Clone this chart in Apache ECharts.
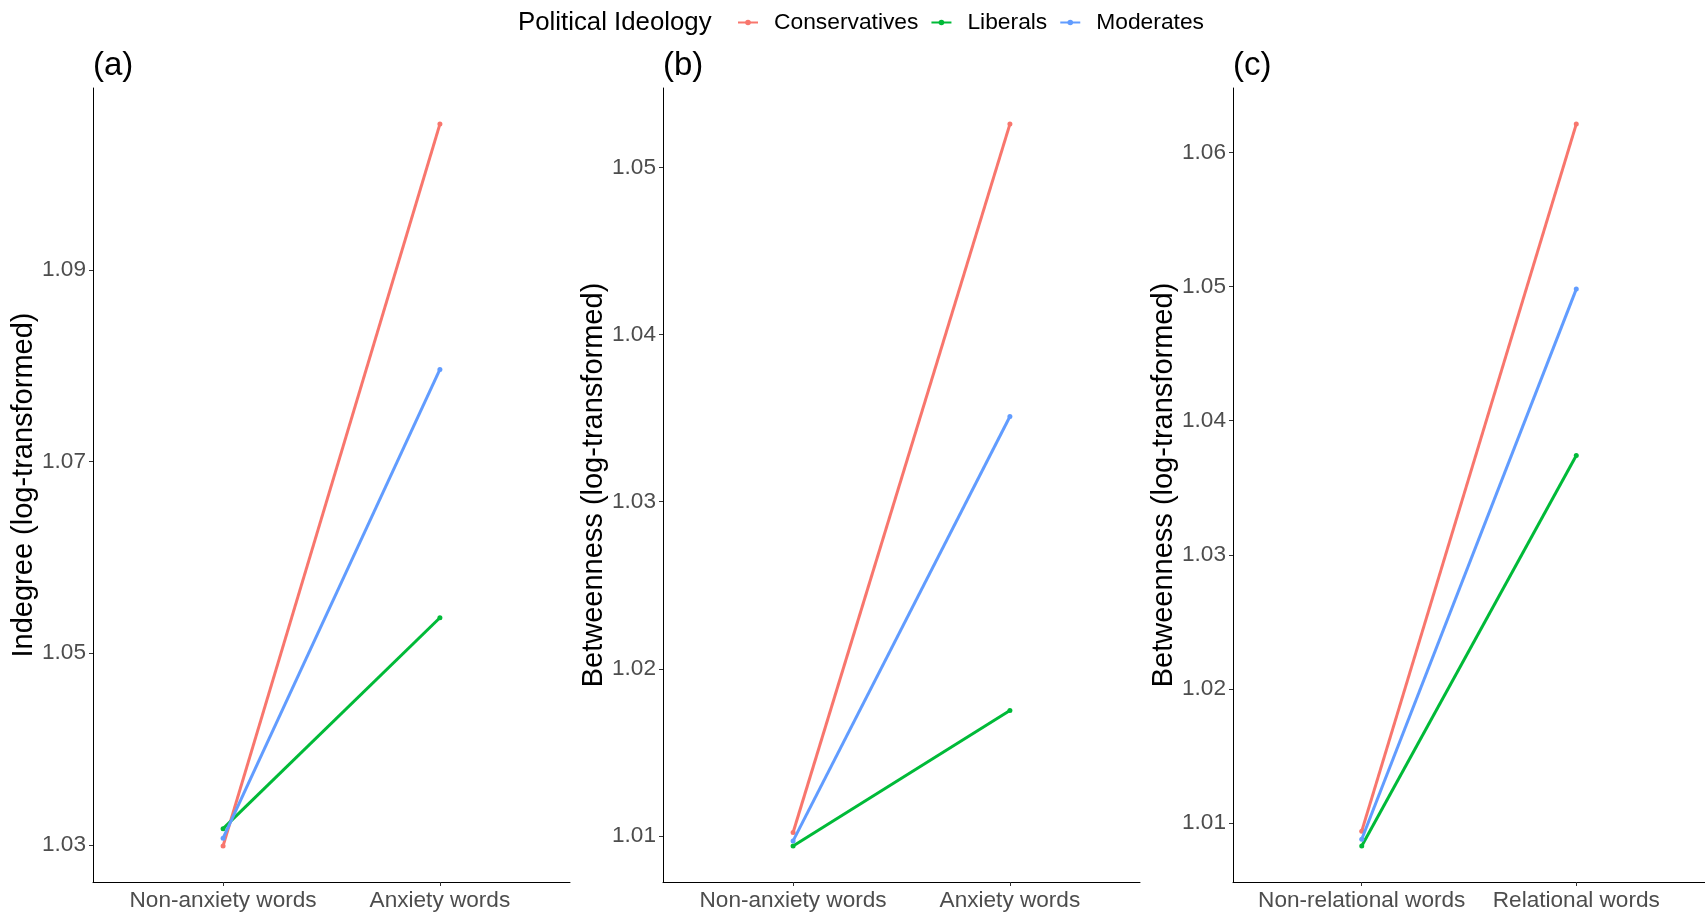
<!DOCTYPE html>
<html>
<head>
<meta charset="utf-8">
<script src="https://cdn.jsdelivr.net/npm/echarts@6/dist/echarts.min.js"></script>
<style>
html,body{margin:0;padding:0;background:#fff;}
#chart{width:1705px;height:913px;}
</style>
</head>
<body>
<div id="chart"></div>
<script>
// ---- data ----
const legendTitle = 'Political Ideology';
const seriesNames = ['Conservatives', 'Liberals', 'Moderates'];
const seriesColors = ['#F8766D', '#00BA38', '#619CFF'];

const categoriesAnxiety = ['Non-anxiety words', 'Anxiety words'];
const categoriesRelational = ['Non-relational words', 'Relational words'];

// (a) Indegree by anxiety words
const indegreeConservatives = [1.0299, 1.1052];
const indegreeLiberals      = [1.0317, 1.0537];
const indegreeModerates     = [1.0307, 1.0796];

// (b) Betweenness by anxiety words
const betweenAnxConservatives = [1.0102, 1.0526];
const betweenAnxLiberals      = [1.0094, 1.0175];
const betweenAnxModerates     = [1.0097, 1.0351];

// (c) Betweenness by relational words
const betweenRelConservatives = [1.0094, 1.0621];
const betweenRelLiberals      = [1.0083, 1.0374];
const betweenRelModerates     = [1.0088, 1.0498];

const ticksA = [1.03, 1.05, 1.07, 1.09];
const ticksB = [1.01, 1.02, 1.03, 1.04, 1.05];
const ticksC = [1.01, 1.02, 1.03, 1.04, 1.05, 1.06];

const panelLabels = ['(a)', '(b)', '(c)'];
const yTitles = ['Indegree (log-transformed)', 'Betweenness (log-transformed)', 'Betweenness (log-transformed)'];

// ---- layout ----
const FONT = '"Liberation Sans", Arial, sans-serif';
const grids = [
  {left: 93, width: 477, top: 88, bottom: 913 - 882},
  {left: 663, width: 477, top: 88, bottom: 913 - 882},
  {left: 1233, width: 479, top: 88, bottom: 913 - 882}
];

const panels = [
  {cats: categoriesAnxiety, values: [indegreeConservatives, indegreeLiberals, indegreeModerates], ticks: ticksA},
  {cats: categoriesAnxiety, values: [betweenAnxConservatives, betweenAnxLiberals, betweenAnxModerates], ticks: ticksB},
  {cats: categoriesRelational, values: [betweenRelConservatives, betweenRelLiberals, betweenRelModerates], ticks: ticksC}
];

const xAxes = [], yAxes = [], series = [];
panels.forEach((p, i) => {
  const all = [].concat(...p.values);
  const lo = Math.min(...all), hi = Math.max(...all);
  const pad = (hi - lo) * 0.05;
  xAxes.push({
    type: 'value', gridIndex: i, min: 0.4, max: 2.6,
    splitLine: {show: false},
    axisLine: {show: true, lineStyle: {color: '#000', width: 1}},
    axisTick: {show: true, length: 4, lineStyle: {color: '#333'}, customValues: [1, 2]},
    axisLabel: {
      customValues: [1, 2], margin: 7,
      formatter: v => p.cats[Math.round(v) - 1],
      color: '#4D4D4D', fontSize: 22.6, fontFamily: FONT
    }
  });
  yAxes.push({
    type: 'value', gridIndex: i, min: lo - pad, max: hi + pad,
    splitLine: {show: false},
    name: yTitles[i], nameLocation: 'middle', nameGap: 44,
    nameTextStyle: {color: '#000', fontSize: 29, fontFamily: FONT},
    axisLine: {show: true, lineStyle: {color: '#000', width: 1}},
    axisTick: {show: true, length: 4, lineStyle: {color: '#333'}, customValues: p.ticks},
    axisLabel: {
      customValues: p.ticks, margin: 7,
      formatter: v => v.toFixed(2),
      color: '#4D4D4D', fontSize: 22.6, fontFamily: FONT
    }
  });
  p.values.forEach((vals, k) => {
    series.push({
      name: seriesNames[k], type: 'line',
      xAxisIndex: i, yAxisIndex: i,
      data: vals.map((v, j) => [j + 1, v]),
      color: seriesColors[k],
      symbol: 'circle', symbolSize: 5, showSymbol: true,
      lineStyle: {width: 3, color: seriesColors[k]},
      itemStyle: {color: seriesColors[k]},
      silent: true, animation: false, z: 2 + k
    });
  });
});

const chart = echarts.init(document.getElementById('chart'), null, {renderer: 'canvas'});
chart.setOption({
  backgroundColor: '#fff',
  animation: false,
  grid: grids,
  xAxis: xAxes,
  yAxis: yAxes,
  series: series,
  legend: {
    data: seriesNames,
    left: 737, top: 11, padding: 0,
    itemWidth: 20, itemHeight: 7, itemGap: 12,
    textStyle: {color: '#000', fontSize: 22.8, fontFamily: FONT, padding: [0, 0, 0, 11]}
  },
  graphic: [
    {type: 'text', left: 518, top: 10, style: {text: legendTitle, fill: '#000', font: '25.8px ' + FONT}},
    ...panelLabels.map((t, i) => ({
      type: 'text', left: grids[i].left, top: 49,
      style: {text: t, fill: '#000', font: '33px ' + FONT}
    }))
  ]
});
</script>
</body>
</html>
